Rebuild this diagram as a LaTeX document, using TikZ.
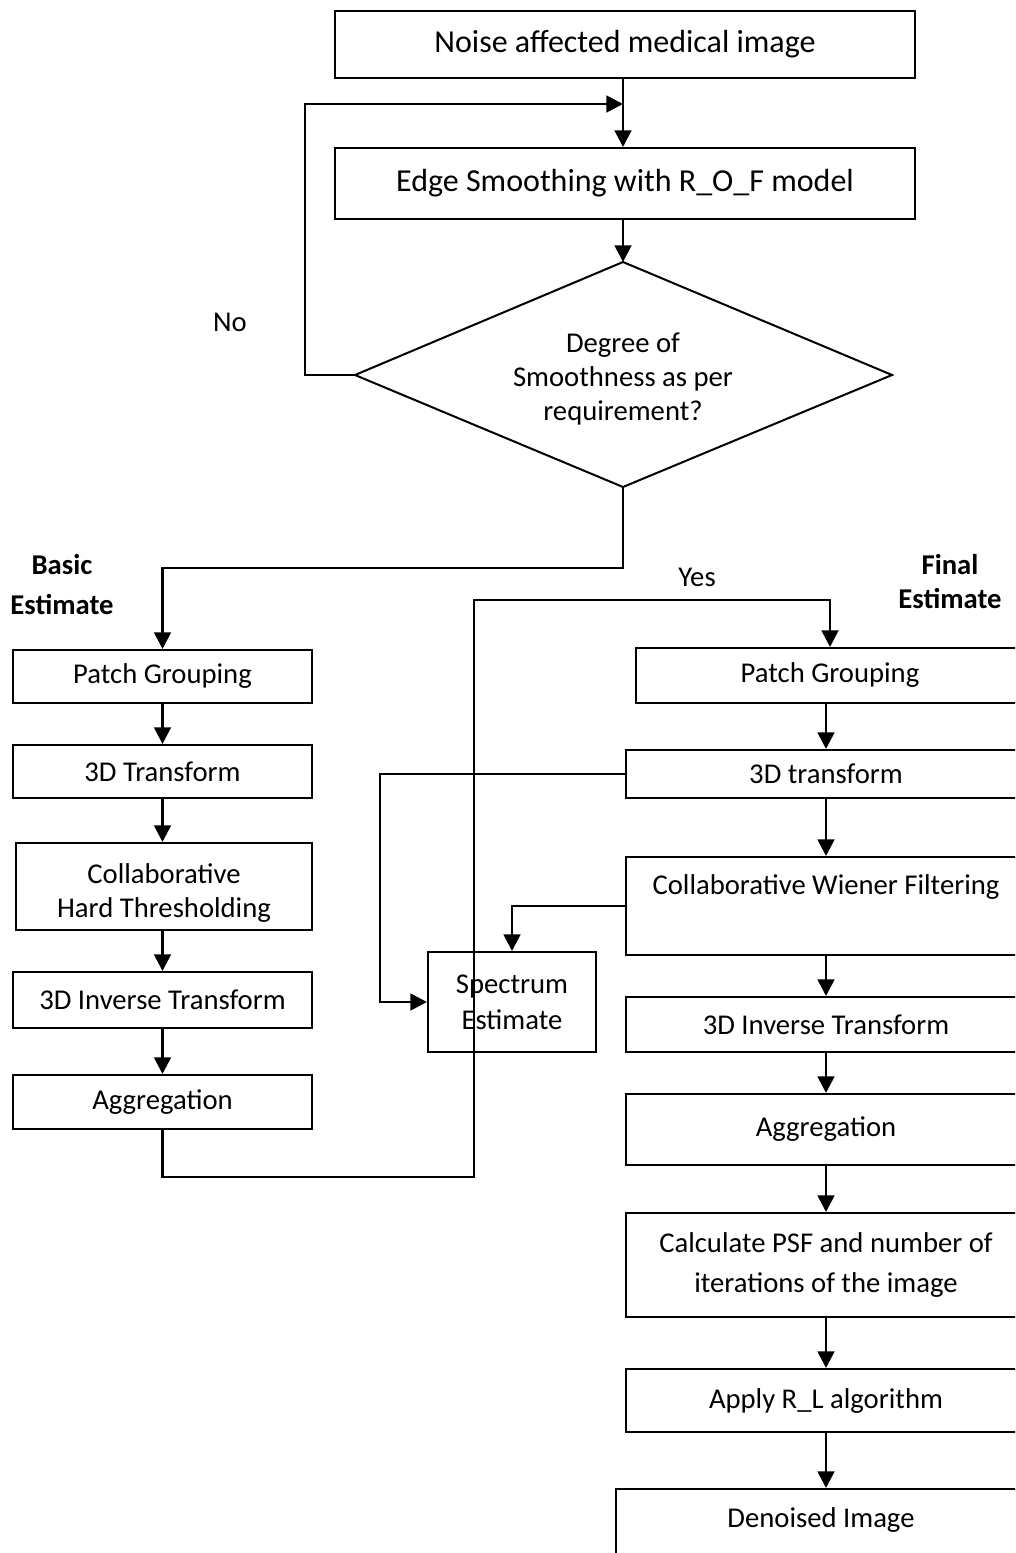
\documentclass[tikz,border=0pt]{standalone}
\usepackage{fontspec}
\setmainfont{Carlito}
\usetikzlibrary{arrows.meta}
\newcommand\fszA{\fontsize{21.5pt}{26pt}\selectfont}
\newcommand\fszT{\fontsize{24pt}{28pt}\selectfont}
\begin{document}
\begin{tikzpicture}[x=0.75pt,y=-0.75pt,
  bx/.style={draw, line width=1.5pt, inner sep=0pt, font=\fszA, align=center},
  rb/.style n args={4}{minimum width={(#3-#1)*0.75pt}, minimum height={(#4-#2)*0.75pt}, at={({(#1+#3)/2},{(#2+#4)/2})}},
  arr/.style={line width=2.1pt, -{Triangle[length=12.5pt,width=12.5pt]}},
  lbl/.style={font=\fszA, align=center, inner sep=0pt},
]
\clip (0,0) rectangle (1015,1553);
% top part
\node[bx, rb={335}{11}{915}{78}, font=\fszT] (top) {Noise affected medical image};
\node[bx, rb={335}{148}{915}{219}, font=\fszT] (smooth) {Edge Smoothing with R\_O\_F model};
\coordinate (dN) at (623,262);
\coordinate (dE) at (892,375);
\coordinate (dS) at (623,487);
\coordinate (dW) at (355,375);
\draw[line width=1.5pt, line join=miter] (dN) -- (dE) -- (dS) -- (dW) -- cycle;
\node[lbl, font={\fontsize{21.5pt}{25.5pt}\selectfont}] (dia) at (623,379) {Degree of\\Smoothness as per\\requirement?};
\coordinate (j1) at (623,104);
\coordinate (lp) at (305,375);
\coordinate (da) at (623,568);
% left column
\node[bx, rb={13}{650}{312}{703}] (lpg) {Patch Grouping};
\node[bx, rb={13}{745}{312}{798}] (l3d) {3D Transform};
\node[bx, rb={16}{843}{312}{930}, font={\fontsize{21.5pt}{26pt}\selectfont}] (lcol) {};
\node[lbl, font={\fontsize{21.5pt}{26pt}\selectfont}] (lcoltxt) at (164,893) {Collaborative\\Hard Thresholding};
\node[bx, rb={13}{972}{312}{1028}] (linv) {3D Inverse Transform};
\node[bx, rb={13}{1075}{312}{1129}] (lagg) {Aggregation};
% spectrum
\node[bx, rb={428}{952}{596}{1052}, font={\fontsize{21.5pt}{27pt}\selectfont}] (spec) {Spectrum\\Estimate};
% right column
\coordinate (rx) at (826,0);
\node[bx, rb={636}{648}{1024}{703}] (rpg) {Patch Grouping};
\node[bx, rb={626}{750}{1026}{798}] (r3d) {3D transform};
\node[bx, rb={626}{857}{1026}{955}] (rcol) {};
\node[lbl] (rcoltxt) at (826,887) {Collaborative Wiener Filtering};
\node[bx, rb={626}{997}{1026}{1052}] (rinv) {3D Inverse Transform};
\node[bx, rb={626}{1094}{1026}{1165}] (ragg) {Aggregation};
\node[bx, rb={626}{1213}{1026}{1317}, font={\fontsize{21.5pt}{30pt}\selectfont}] (rcalc) {Calculate PSF and number of\\iterations of the image};
\node[bx, rb={626}{1369}{1026}{1432}] (rapp) {Apply R\_L algorithm};
\node[bx, rb={616}{1489}{1026}{1600}] (rden) {};
\node[lbl] (rdentxt) at (821,1520) {Denoised Image};
% labels
\node[lbl] (no) at (230,322) {No};
\node[lbl] (yes) at (697,577) {Yes};
\node[lbl, font={\bfseries\fontsize{21.5pt}{30pt}\selectfont}] (basic) at (62,585) {Basic\\Estimate};
\node[lbl, font={\bfseries\fontsize{21.5pt}{25.5pt}\selectfont}] (final) at (950,582) {Final\\Estimate};
% connectors top
\draw[arr] (top.south -| dN) -- (smooth.north -| dN);
\draw[arr] (dW) -- (lp) |- (j1);
\draw[arr] (smooth.south -| dN) -- (dN);
\draw[arr] (dS) -- (da) -| (lpg.north);
% left column
\draw[arr] (lpg.south) -- (l3d.north);
\draw[arr] (l3d.south) -- (l3d.south |- lcol.north);
\draw[arr] (lcol.south -| linv.north) -- (linv.north);
\draw[arr] (linv.south) -- (lagg.north);
% yes path
\coordinate (ya) at (474,1177);
\coordinate (yb) at (474,600);
\draw[arr] (lagg.south) |- (ya) -- (yb) -| (rpg.north);
% right column
\draw[arr] (rpg.south -| rx) -- (r3d.north -| rx);
\draw[arr] (r3d.south -| rx) -- (rcol.north -| rx);
\draw[arr] (rcol.south -| rx) -- (rinv.north -| rx);
\draw[arr] (rinv.south -| rx) -- (ragg.north -| rx);
\draw[arr] (ragg.south -| rx) -- (rcalc.north -| rx);
\draw[arr] (rcalc.south -| rx) -- (rapp.north -| rx);
\draw[arr] (rapp.south -| rx) -- (rden.north -| rx);
% feedback to spectrum
\coordinate (fb) at (380,774);
\draw[arr] (r3d.west) -- (fb) |- (spec.west);
\draw[arr] (rcol.west) -| (spec.north);
\end{tikzpicture}
\end{document}
